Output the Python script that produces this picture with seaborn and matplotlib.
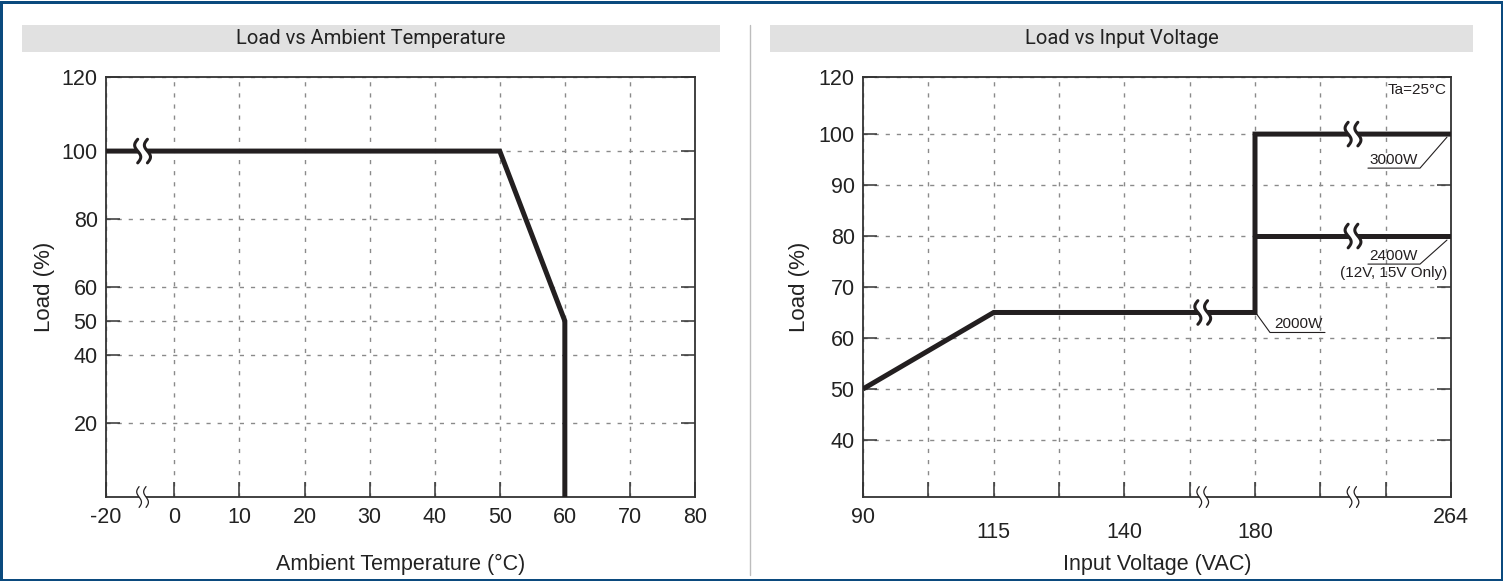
import numpy as np
import pandas as pd
import seaborn as sns
import matplotlib
matplotlib.use("Agg")
import matplotlib.pyplot as plt
from matplotlib.transforms import Affine2D, ScaledTranslation, blended_transform_factory
from matplotlib.patches import Rectangle, Polygon
from matplotlib.lines import Line2D

# ---------------- data ----------------
titles = ["Load vs Ambient Temperature", "Load vs Input Voltage"]

temp_c = [-20, 50, 60, 60]
temp_load = [100, 100, 50, -1.8]          # last point: drop to bottom of axis
temp_xticks = [-20, 0, 10, 20, 30, 40, 50, 60, 70, 80]
temp_xticklabels = ["-20", "0", "10", "20", "30", "40", "50", "60", "70", "80"]
temp_yticks = [20, 40, 50, 60, 80, 100, 121.8]
temp_yticklabels = ["20", "40", "50", "60", "80", "100", "120"]
temp_ylim = (-1.8, 121.8)
temp_break_x = -9.3

volt_main = [90, 115, 180, 180, 264]
load_main = [50, 65, 65, 100, 100]
volt_2400 = [180, 264]
load_2400 = [80, 80]
volt_xticks = [90, 115, 140, 180, 264]
volt_xticklabels = ["90", "115", "140", "180", "264"]
volt_yticks = [40, 50, 60, 70, 80, 90, 100, 111.2]
volt_yticklabels = ["40", "50", "60", "70", "80", "90", "100", "120"]
volt_ylim = (28.8, 111.2)
volt_break_x = [164, 222]

# broken-axis scale definitions (value -> position)
temp_scale_v = [-20, 0, 80]
temp_scale_p = [-10.5, 0, 80]
volt_scale_v = [90, 140, 180, 264]
volt_scale_p = [0, 4, 6, 9]

# ---------------- style ----------------
sns.set_style("white")
plt.rcParams["font.family"] = ["Liberation Sans", "DejaVu Sans"]

W, H = 1503, 581
fig = plt.figure(figsize=(W / 100, H / 100), dpi=100)
INK = "#231f20"
SPINE = "#333333"
GRID = "#8a8a8a"
TXT = "#222222"


def px_rect(x0, y0, x1, y1):
    return [x0 / W, 1 - y1 / H, (x1 - x0) / W, (y1 - y0) / H]


axL = fig.add_axes(px_rect(106, 77, 695, 497))
axR = fig.add_axes(px_rect(863, 77, 1451, 497))


def make_scale(vals, poss):
    def fwd(v):
        v = np.asarray(v, dtype=float)
        lo = poss[0] + (v - vals[0]) * (poss[1] - poss[0]) / (vals[1] - vals[0])
        hi = poss[-1] + (v - vals[-1]) * (poss[-1] - poss[-2]) / (vals[-1] - vals[-2])
        return np.where(v < vals[0], lo, np.where(v > vals[-1], hi, np.interp(v, vals, poss)))

    def inv(p):
        p = np.asarray(p, dtype=float)
        lo = vals[0] + (p - poss[0]) * (vals[1] - vals[0]) / (poss[1] - poss[0])
        hi = vals[-1] + (p - poss[-1]) * (vals[-1] - vals[-2]) / (poss[-1] - poss[-2])
        return np.where(p < poss[0], lo, np.where(p > poss[-1], hi, np.interp(p, poss, vals)))
    return fwd, inv


temp_fwd, temp_inv = make_scale(temp_scale_v, temp_scale_p)
volt_fwd, volt_inv = make_scale(volt_scale_v, volt_scale_p)

axL.set_xscale("function", functions=(temp_fwd, temp_inv))
axR.set_xscale("function", functions=(volt_fwd, volt_inv))

# ---------------- lines ----------------
dfL = pd.DataFrame({"temp": temp_c, "load": temp_load})
sns.lineplot(data=dfL, x="temp", y="load", ax=axL, sort=False, estimator=None,
             color=INK, lw=3.6, zorder=4)

dfR = pd.DataFrame({
    "volt": volt_main + volt_2400,
    "load": load_main + load_2400,
    "seg": ["main"] * len(volt_main) + ["2400"] * len(volt_2400),
})
sns.lineplot(data=dfR, x="volt", y="load", units="seg", ax=axR, sort=False,
             estimator=None, color=INK, lw=3.6, zorder=4)
for ax in (axL, axR):
    for ln in ax.lines:
        ln.set_solid_joinstyle("miter")
        ln.set_solid_capstyle("butt")

# ---------------- axes styling ----------------
axL.set_xlim(temp_scale_v[0], temp_scale_v[-1])
axL.set_ylim(*temp_ylim)
axL.set_xticks(temp_xticks)
axL.set_xticklabels(temp_xticklabels)
axL.set_yticks(temp_yticks)
axL.set_yticklabels(temp_yticklabels)

axR.set_xlim(volt_scale_v[0], volt_scale_v[-1])
axR.set_ylim(*volt_ylim)
axR.set_xticks(volt_xticks)
axR.set_xticklabels(volt_xticklabels)
axR.set_xticks(volt_inv(np.arange(1, 9)), minor=True)
axR.set_yticks(volt_yticks)
axR.set_yticklabels(volt_yticklabels)

for ax in (axL, axR):
    for s in ax.spines.values():
        s.set_visible(True)
        s.set_color(SPINE)
        s.set_linewidth(1.3)
    ax.tick_params(axis="both", which="both", direction="in", color=SPINE,
                   width=1.1, labelsize=15.5, labelcolor=TXT)
    ax.tick_params(axis="y", length=10, pad=6, left=True, right=True)
    ax.tick_params(axis="x", which="both", length=11, pad=7, bottom=True, top=False)
    ax.grid(True, which="both", color=GRID, lw=1.0, linestyle=(0, (3, 5)))
    ax.set_axisbelow(True)
    ax.set_ylabel("Load (%)", fontsize=16, color=TXT)
    ax.set_facecolor("white")

axL.set_xlabel("Ambient Temperature (°C)", fontsize=15.5, color=TXT)
axR.set_xlabel("Input Voltage (VAC)", fontsize=15.5, color=TXT)
axL.yaxis.set_label_coords(-0.087, 0.5)
axR.yaxis.set_label_coords(-0.090, 0.5)
axL.xaxis.set_label_coords(0.5, -0.136)
axR.xaxis.set_label_coords(0.5, -0.136)

# staggered voltage labels
pads = {90: 7, 115: 18, 140: 18, 180: 18, 264: 7}
for v, tick in zip(volt_xticks, axR.xaxis.get_major_ticks()):
    tick.set_pad(pads[v])

# ---------------- break marks ----------------
def pt_trans(ax, x, y, ytrans=None):
    base = ax.transData if ytrans is None else blended_transform_factory(ax.transData, ytrans)
    return Affine2D().scale(fig.dpi / 72.0) + ScaledTranslation(x, y, base)


def break_mark(ax, x, y, height, gap, amp, lw, ytrans=None):
    t = np.linspace(-1, 1, 41)
    sx = -amp * np.sin(np.pi * t)
    sy = t * height / 2
    tr = pt_trans(ax, x, y, ytrans)
    left = np.column_stack([sx - gap / 2, sy])
    right = np.column_stack([sx + gap / 2, sy])
    ax.add_patch(Polygon(np.vstack([left, right[::-1]]), closed=True, fc="white",
                         ec="none", transform=tr, zorder=6, clip_on=False))
    for c in (left, right):
        ax.add_line(Line2D(c[:, 0], c[:, 1], transform=tr, color=INK, lw=lw,
                           zorder=7, clip_on=False, solid_capstyle="round"))


# line breaks
break_mark(axL, temp_break_x, 100, 17, 7, 2.2, 2.2)
break_mark(axR, volt_break_x[0], 65, 17, 7, 2.2, 2.2)
break_mark(axR, volt_break_x[1], 100, 17, 7, 2.2, 2.2)
break_mark(axR, volt_break_x[1], 80, 17, 7, 2.2, 2.2)
# axis breaks
break_mark(axL, temp_break_x, 0, 15, 5, 1.7, 0.9, ytrans=axL.transAxes)
for bx in volt_break_x:
    break_mark(axR, bx, 0, 15, 5, 1.7, 0.9, ytrans=axR.transAxes)

# ---------------- annotations ----------------
def leader(ax, x, y, pts):
    tr = pt_trans(ax, x, y)
    xs, ys = zip(*pts)
    ax.add_line(Line2D(xs, ys, transform=tr, color=INK, lw=0.8, zorder=5, clip_on=False))


leader(axR, 264, 100, [(-2.9, -2.2), (-22.3, -24.5), (-59.8, -24.5)])
axR.annotate("3000W", xy=(264, 100), xytext=(-41.5, -23.4), textcoords="offset points",
             ha="center", va="bottom", fontsize=11, color=INK, zorder=5)
leader(axR, 264, 80, [(-2.9, -2.9), (-22.3, -20.2), (-59.8, -20.2)])
axR.annotate("2400W", xy=(264, 80), xytext=(-41.5, -19.1), textcoords="offset points",
             ha="center", va="bottom", fontsize=11, color=INK, zorder=5)
axR.annotate("(12V, 15V Only)", xy=(264, 80), xytext=(-41.5, -21.3), textcoords="offset points",
             ha="center", va="top", fontsize=11, color=INK, zorder=5)
leader(axR, 180, 65, [(1.4, -1.4), (10.8, -14.4), (50.4, -14.4)])
axR.annotate("2000W", xy=(180, 65), xytext=(31, -13.3), textcoords="offset points",
             ha="center", va="bottom", fontsize=11, color=INK, zorder=5)
axR.text(0.993, 0.969, "Ta=25°C", transform=axR.transAxes, ha="right", va="center",
         fontsize=11, color=INK)

# ---------------- frame, title bars, separator ----------------
for (x0, x1), title in zip([(22, 720), (770, 1473)], titles):
    fig.patches.append(Rectangle((x0 / W, 1 - 52 / H), (x1 - x0) / W, 27 / H,
                                 transform=fig.transFigure, fc="#e1e1e1", ec="none", zorder=0))
    fig.text((x0 + x1) / 2 / W, 1 - 38.5 / H, title, ha="center", va="center",
             fontsize=14.5, family=["Roboto", "DejaVu Sans"], color=TXT)

fig.add_artist(Line2D([750 / W, 750 / W], [1 - 575 / H, 1 - 25 / H], transform=fig.transFigure,
                      color="#bdbdbd", lw=1.0))
fig.patches.append(Rectangle((1.5 / W, 1.5 / H), (W - 3) / W, (H - 3) / H,
                             transform=fig.transFigure, fc="none", ec="#0b4a7e",
                             lw=3 * 0.72, zorder=10))

fig.savefig("out.png", dpi=100, facecolor="white")
